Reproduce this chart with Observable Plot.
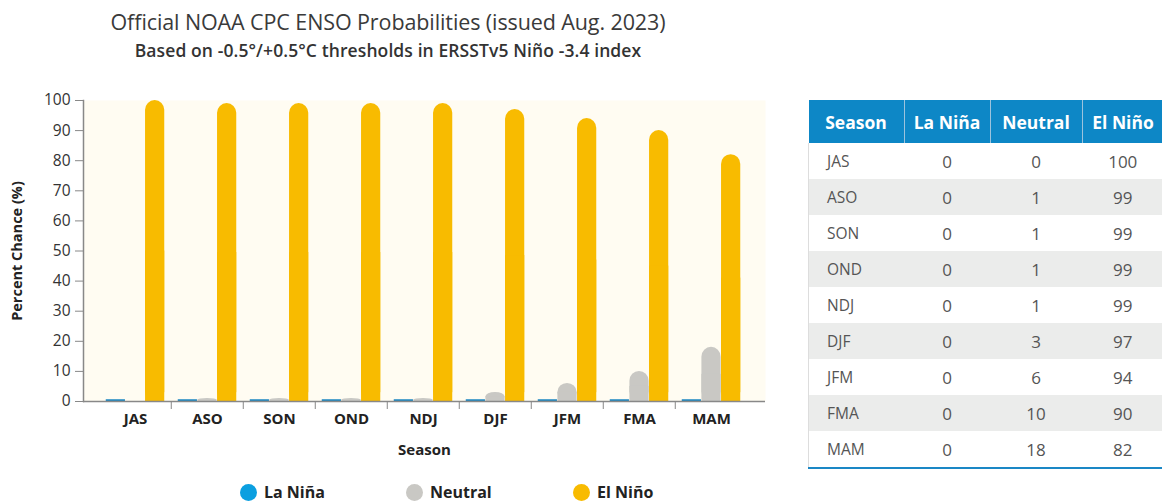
<!DOCTYPE html>
<html><head><meta charset="utf-8">
<script src="https://cdn.jsdelivr.net/npm/d3@7"></script>
<script src="https://cdn.jsdelivr.net/npm/@observablehq/plot@0.6"></script>
<style>
body{margin:0;width:1162px;height:504px;overflow:hidden;background:#fff;font-family:"Open Sans",sans-serif;position:relative}
#title{position:absolute;left:0;top:7px;width:776px;text-align:center;font-size:21.5px;font-weight:500;color:#3a3a3a;letter-spacing:-0.1px}
#subtitle{position:absolute;left:0;top:38px;width:776px;text-align:center;font-size:17.5px;font-weight:600;color:#333;letter-spacing:0.1px}
#chart{position:absolute;left:0;top:88px}
#legend{position:absolute;top:481px;left:0;width:800px;height:22px}
.li{position:absolute;top:0;display:flex;align-items:center;font-size:16px;font-weight:700;color:#222}
.li span.dot{display:inline-block;width:17px;height:17px;border-radius:50%;margin-right:7px}
#tbl{position:absolute;left:808px;top:100px;width:352px;border-collapse:collapse;table-layout:fixed}
#tbl th{background:#0d87c6;color:#fff;font-size:17.5px;font-weight:700;height:43px;padding:0;text-align:center;border-left:1.5px solid #9cc3dd}
#tbl th:first-child{border-left:none}
#tbl td{height:36px;padding:0;font-size:17px;color:#555;text-align:center}
#tbl td:first-child{text-align:left;padding-left:18px;font-size:15.5px}
#tbl tbody tr:nth-child(even) td{background:#ebeceb}
#tbl tbody tr td:first-child{border-left:1px solid #ddd}
#tbl tbody tr:last-child td{border-bottom:2px solid #1a87c5}
</style>
</head><body>
<div id="title"></div>
<div id="subtitle"></div>
<div id="chart"></div>
<div id="legend"></div>
<table id="tbl"><thead><tr></tr></thead><tbody></tbody></table>
<script>
const titleText = "Official NOAA CPC ENSO Probabilities (issued Aug. 2023)";
const subtitleText = "Based on -0.5°/+0.5°C thresholds in ERSSTv5 Niño -3.4 index";
const seasons = ["JAS","ASO","SON","OND","NDJ","DJF","JFM","FMA","MAM"];
const laNina  = [0,0,0,0,0,0,0,0,0];
const neutral = [0,1,1,1,1,3,6,10,18];
const elNino  = [100,99,99,99,99,97,94,90,82];
const seriesNames = ["La Niña","Neutral","El Niño"];
const seriesColors = ["#0b9fe0","#c9c8c4","#f8bb00"];
const yTicks = [0,10,20,30,40,50,60,70,80,90,100];
const yLabel = "Percent Chance (%)";
const xLabel = "Season";
const tableHeader = ["Season","La Niña","Neutral","El Niño"];

document.getElementById("title").textContent = titleText;
document.getElementById("subtitle").textContent = subtitleText;

const seriesValues = [laNina, neutral, elNino];
const data = [];
seriesNames.forEach((s, k) => seasons.forEach((season, i) => data.push({season, series: s, k, value: seriesValues[k][i]})));

const W = 780, H = 377, mL = 83, mR = 15, mT = 12, mB = 64;
const outerL = 14, outerR = 16;
const bandW = (W - mL - mR - outerL - outerR) / seasons.length;
const groupPad = 6.75;
const barW = (bandW - 2 * groupPad) / 3;

const marks = [Plot.frame({fill: "#fffcf2", stroke: "none"})];
seriesNames.forEach((s, k) => {
  const d = data.filter(r => r.k === k);
  const inset = {insetLeft: groupPad + k * barW, insetRight: groupPad + (2 - k) * barW};
  marks.push(Plot.barY(d, {x: "season", y: "value", fill: seriesColors[k], rx: barW / 2, ...inset}));
  marks.push(Plot.barY(d, {x: "season", y1: 0, y2: r => r.value / 2, fill: seriesColors[k], ...inset}));
  if (k === 0) marks.push(Plot.tickY(d, {x: "season", y: "value", stroke: "#1b87c2", strokeWidth: 2.5, dy: -1, ...inset}));
});
marks.push(
  Plot.ruleY([0], {stroke: "#888", strokeWidth: 1.5}),
  Plot.frame({anchor: "left", stroke: "#888", strokeWidth: 1.5}),
  Plot.axisY(yTicks, {tickSize: 8, tickPadding: 5, label: null, fontSize: 15.5, color: "#333", stroke: "#888"}),
  Plot.axisX({tickSize: 0, tickPadding: 12, label: null, fontSize: 15, fontWeight: "bold", color: "#222"}),
  Plot.axisX(seasons.slice(1), {tickSize: 8, dx: -bandW / 2, tickFormat: () => "", label: null, stroke: "#888"}),
  Plot.text([yLabel], {text: d => d, frameAnchor: "left", textAnchor: "middle", dx: -66, rotate: -90, fontSize: 14.5, fontWeight: "bold", fill: "#222"}),
  Plot.text([xLabel], {text: d => d, frameAnchor: "bottom", dy: 53, fontSize: 15, fontWeight: "bold", fill: "#222"})
);

const chart = Plot.plot({
  width: W, height: H, marginLeft: mL, marginRight: mR, marginTop: mT, marginBottom: mB,
  style: {fontFamily: "'Open Sans', sans-serif", background: "transparent"},
  x: {type: "band", domain: seasons, padding: 0, insetLeft: outerL, insetRight: outerR, axis: null},
  y: {domain: [0, 100], axis: null},
  marks
});
document.getElementById("chart").appendChild(chart);

// legend
const legendX = [240, 406, 573];
const legend = d3.select("#legend");
seriesNames.forEach((s, k) => {
  const item = legend.append("div").attr("class", "li").style("left", legendX[k] + "px");
  item.append("span").attr("class", "dot").style("background", seriesColors[k]);
  item.append("span").text(s);
});

// table
d3.select("#tbl thead tr").selectAll("th").data(tableHeader).join("th").text(d => d)
  .style("width", (d, i) => [95, 85, 91, 81][i] + "px");
d3.select("#tbl tbody").selectAll("tr").data(seasons).join("tr")
  .selectAll("td").data((s, i) => [s, laNina[i], neutral[i], elNino[i]]).join("td").text(d => d);
</script>
</body></html>
